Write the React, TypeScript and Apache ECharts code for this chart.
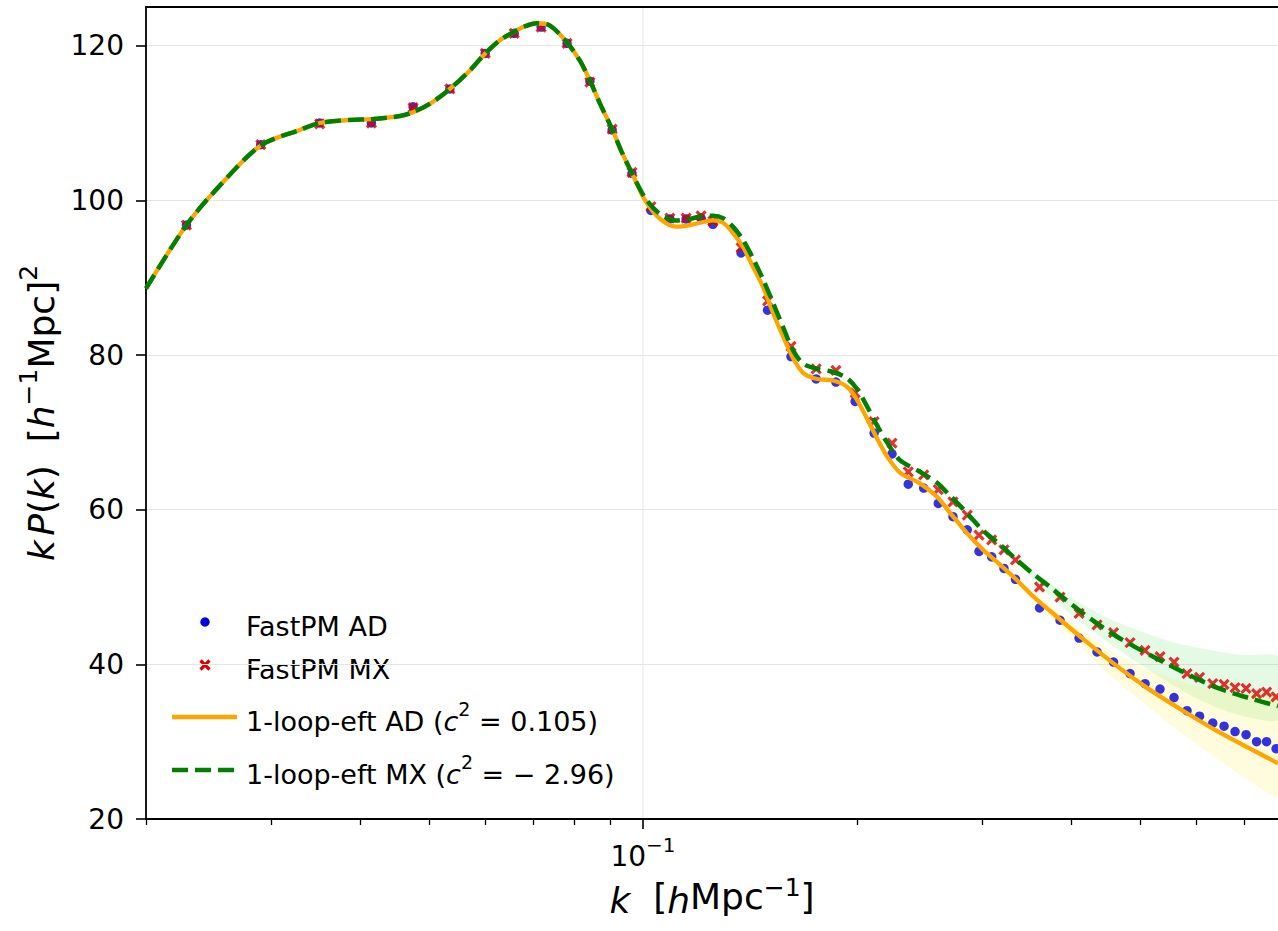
import React, { useEffect, useRef } from "react";
import * as echarts from "echarts";

// ---------- data ----------
// measured points (FastPM)
const kPoints = [
  0.0228, 0.029, 0.0351, 0.0415, 0.0475, 0.0535, 0.06, 0.0659, 0.0719, 0.0782,
  0.0842, 0.0905, 0.0965, 0.1026, 0.1091, 0.115, 0.1207, 0.1254, 0.1374, 0.1497,
  0.1615, 0.1752, 0.1868, 0.1988, 0.2114, 0.224, 0.2361, 0.2482, 0.2602, 0.2729,
  0.2858, 0.2969, 0.3093, 0.3219, 0.3341, 0.3612, 0.386, 0.4105, 0.4351, 0.459,
  0.4842, 0.5083, 0.5335, 0.5583, 0.5823, 0.6064, 0.6329, 0.6565, 0.6803, 0.705,
  0.7294, 0.7534, 0.777,
];
const fastpmAD = [
  96.8, 107.2, 110.0, 110.0, 112.1, 114.4, 119.0, 121.6, 122.4, 120.3,
  115.4, 109.1, 103.5, 98.7, 97.6, 97.6, 97.7, 96.9, 93.2, 85.8,
  79.8, 76.9, 76.5, 74.0, 69.9, 67.2, 63.3, 62.8, 60.8, 59.1,
  57.4, 54.6, 53.9, 52.4, 51.0, 47.3, 45.7, 43.4, 41.6, 40.3,
  38.8, 37.5, 36.8, 35.7, 34.0, 33.3, 32.4, 32.0, 31.3, 30.9,
  30.0, 30.0, 29.1,
];
const fastpmMX = [
  96.8, 107.2, 109.9, 110.0, 112.0, 114.4, 119.0, 121.6, 122.4, 120.3,
  115.3, 109.2, 103.6, 99.2, 97.7, 97.7, 98.0, 97.3, 93.9, 87.0,
  81.1, 78.2, 78.0, 75.1, 71.4, 68.6, 64.9, 64.5, 62.6, 61.0,
  59.3, 56.7, 56.1, 54.8, 53.5, 50.0, 48.7, 46.6, 45.1, 44.1,
  42.8, 41.8, 41.0, 40.3, 38.8, 38.3, 37.5, 37.4, 37.0, 36.9,
  36.2, 36.4, 35.8,
];

// 1-loop EFT model curves
const kModel = [
  0.02, 0.0228, 0.0254, 0.029, 0.0329, 0.0351, 0.0387, 0.0415, 0.0455, 0.0475,
  0.0502, 0.0535, 0.0571, 0.06, 0.0629, 0.0659, 0.0682, 0.0709, 0.074, 0.0782,
  0.0816, 0.0842, 0.087, 0.0905, 0.0934, 0.0965, 0.1007, 0.1057, 0.1113, 0.1165,
  0.1203, 0.1254, 0.1296, 0.1338, 0.1382, 0.1428, 0.1475, 0.1523, 0.1574, 0.1626,
  0.1679, 0.1757, 0.185, 0.1936, 0.2, 0.2065, 0.2134, 0.2204, 0.2298, 0.2452,
  0.2589, 0.2703, 0.2853, 0.3008, 0.3178, 0.3355, 0.3537, 0.3737, 0.4157, 0.4637,
  0.5165, 0.5748, 0.6412, 0.7142, 0.7818,
];
const eftAD = [
  88.6, 96.8, 101.9, 107.1, 109.1, 110.0, 110.4, 110.5, 110.9, 111.4,
  112.5, 114.4, 116.8, 119.0, 120.7, 121.8, 122.5, 122.9, 122.6, 120.4,
  118.0, 115.5, 112.5, 109.2, 106.2, 103.5, 100.0, 97.6, 96.6, 96.8,
  97.1, 97.4, 97.1, 95.8, 94.0, 91.4, 88.8, 85.5, 82.4, 79.6,
  77.7, 76.9, 76.7, 75.9, 74.2, 71.8, 69.2, 66.9, 64.8, 63.4,
  61.7, 59.6, 57.0, 54.8, 52.9, 50.9, 48.8, 46.9, 43.3, 39.8,
  36.7, 34.0, 31.4, 29.1, 27.2,
];
const eftMX = [
  88.6, 96.8, 101.9, 107.1, 109.1, 110.0, 110.4, 110.5, 110.9, 111.4,
  112.5, 114.4, 116.8, 119.0, 120.7, 121.8, 122.5, 122.9, 122.6, 120.4,
  118.0, 115.5, 112.5, 109.2, 106.2, 103.5, 100.3, 98.2, 97.4, 97.6,
  97.9, 98.0, 97.7, 96.6, 94.9, 92.5, 89.8, 86.8, 83.6, 80.6,
  78.9, 78.2, 77.8, 77.0, 75.6, 73.4, 70.9, 68.7, 66.4, 64.9,
  63.5, 61.8, 59.6, 57.3, 55.5, 53.5, 51.7, 50.0, 46.6, 43.6,
  41.2, 39.0, 37.0, 35.6, 34.6,
];

// uncertainty bands
const kBand = [0.25, 0.3, 0.35, 0.4, 0.45, 0.5, 0.55, 0.6, 0.65, 0.7, 0.7818];
const bandADlow = [62.9, 54.7, 48.7, 43.5, 38.8, 35.4, 32.3, 29.7, 27.4, 25.4, 22.9];
const bandADhigh = [62.9, 55.1, 49.7, 45.5, 42.0, 39.8, 38.3, 37.2, 36.5, 36.2, 36.0];
const bandMXlow = [64.4, 57.2, 51.5, 46.4, 42.9, 40.0, 37.6, 35.6, 34.2, 33.3, 32.8];
const bandMXhigh = [64.4, 57.6, 52.5, 48.6, 46.0, 44.3, 43.0, 42.2, 41.6, 41.2, 41.0];

// axes
const xMin = 0.02;
const xMax = 0.7818;
const xMajorTicks = [0.1];
const xMinorTicks = [0.02, 0.03, 0.04, 0.05, 0.06, 0.07, 0.08, 0.09, 0.2, 0.3, 0.4, 0.5, 0.6, 0.7];
const yMin = 20;
const yMax = 125;
const yTicks = [20, 40, 60, 80, 100, 120];
const xGridLines = [0.1];

const legendLabels = [
  "{n|FastPM AD}",
  "{n|FastPM MX}",
  "{n|1-loop-eft AD (}{i|c}{s|2}{n| = 0.105)}",
  "{n|1-loop-eft MX (}{i|c}{s|2}{n| = − 2.96)}",
];

// ---------- styling ----------
const FONT = "DejaVu Sans";
const BLUE = "#0000dd";
const RED = "#d80000";
const ORANGE = "#ffa500";
const GREEN = "#008000";
const GRIDC = "#e6e6e6";

const zip = (xs: number[], ys: number[]) => xs.map((x, i) => [x, ys[i]]);

function bandSeries(name: string, lo: number[], hi: number[], fill: string, z: number) {
  return {
    type: "custom",
    name,
    coordinateSystem: "cartesian2d",
    silent: true,
    z,
    data: [[kBand[0], hi[0]]],
    renderItem: (_p: any, api: any) => {
      const pts: number[][] = [];
      for (let i = 0; i < kBand.length; i++) pts.push(api.coord([kBand[i], hi[i]]));
      for (let i = kBand.length - 1; i >= 0; i--) pts.push(api.coord([kBand[i], lo[i]]));
      return {
        type: "polygon",
        shape: { points: pts, smooth: 0.2 },
        style: { fill, stroke: "none" },
      };
    },
  };
}

export default function App() {
  const ref = useRef<HTMLDivElement>(null);

  useEffect(() => {
    if (!ref.current) return;
    const chart = echarts.init(ref.current, null, { renderer: "svg" });

    const supRich = {
      b: { fontFamily: FONT, fontSize: 28, color: "#000", verticalAlign: "bottom", lineHeight: 35 },
      s: { fontFamily: FONT, fontSize: 20, color: "#000", verticalAlign: "top", lineHeight: 35 },
    };
    const titleRich = {
      n: { fontFamily: FONT, fontSize: 36, color: "#000", verticalAlign: "bottom", lineHeight: 44 },
      i: { fontFamily: FONT, fontSize: 36, fontStyle: "italic", color: "#000", verticalAlign: "bottom", lineHeight: 44 },
      t: { fontFamily: FONT, fontSize: 14, color: "#000", verticalAlign: "bottom", lineHeight: 44 },
      s: { fontFamily: FONT, fontSize: 25, color: "#000", verticalAlign: "top", lineHeight: 44 },
    };
    const legendRich = {
      n: { fontFamily: FONT, fontSize: 27, color: "#000", verticalAlign: "bottom", lineHeight: 36 },
      i: { fontFamily: FONT, fontSize: 27, fontStyle: "italic", color: "#000", verticalAlign: "bottom", lineHeight: 36 },
      s: { fontFamily: FONT, fontSize: 19, color: "#000", verticalAlign: "top", lineHeight: 36 },
    };

    const legendX = 172;
    const legendTextX = 246;
    const legendY = [622, 665, 717, 770];

    const option: any = {
      animation: false,
      backgroundColor: "#ffffff",
      textStyle: { fontFamily: FONT },
      grid: { left: 146, top: 7, right: 0, bottom: 112, containLabel: false },
      xAxis: [
        {
          type: "log",
          logBase: 10,
          min: xMin,
          max: xMax,
          position: "bottom",
          name: "{i|k}  [{i|h}Mpc{s|−1}]",
          nameLocation: "middle",
          nameGap: 38,
          nameTextStyle: { fontFamily: FONT, fontSize: 36, color: "#000", rich: titleRich },
          axisLine: { show: true, lineStyle: { color: "#000", width: 1.8 } },
          axisTick: { show: true, inside: false, length: 10, customValues: xMajorTicks, lineStyle: { color: "#000", width: 1.6 } },
          axisLabel: {
            show: true,
            customValues: xMajorTicks,
            margin: 16,
            formatter: () => "{b|10}{s|−1}",
            rich: supRich,
          },
          splitLine: { show: false },
          minorTick: { show: false },
        },
        {
          type: "log",
          logBase: 10,
          min: xMin,
          max: xMax,
          position: "bottom",
          axisLine: { show: false },
          axisTick: { show: true, inside: false, length: 6, customValues: xMinorTicks, lineStyle: { color: "#000", width: 1.3 } },
          axisLabel: { show: false },
          splitLine: { show: false },
        },
        {
          type: "log",
          logBase: 10,
          min: xMin,
          max: xMax,
          position: "top",
          axisLine: { show: true, lineStyle: { color: "#000", width: 1.8 } },
          axisTick: { show: false },
          axisLabel: { show: false },
          splitLine: { show: false },
        },
      ],
      yAxis: [
        {
          type: "value",
          min: yMin,
          max: yMax,
          interval: 20,
          position: "left",
          name: "{i|k}{t| }{i|P}{n|(}{i|k}{n|)}  {n|[}{i|h}{s|−1}{n|Mpc]}{s|2}",
          nameLocation: "middle",
          nameRotate: 90,
          nameGap: 84,
          nameTextStyle: { fontFamily: FONT, fontSize: 36, color: "#000", rich: titleRich },
          axisLine: { show: true, lineStyle: { color: "#000", width: 1.8 } },
          axisTick: { show: true, inside: false, length: 10, customValues: yTicks, lineStyle: { color: "#000", width: 1.6 } },
          axisLabel: {
            show: true,
            customValues: yTicks,
            margin: 22,
            fontFamily: FONT,
            fontSize: 28,
            color: "#000",
          },
          splitLine: { show: true, lineStyle: { color: GRIDC, width: 1 } },
        },
      ],
      series: [
        {
          type: "custom",
          name: "grid-x",
          coordinateSystem: "cartesian2d",
          silent: true,
          z: 0,
          data: xGridLines.map((v) => [v, yMin]),
          renderItem: (_p: any, api: any) => {
            const x = api.value(0);
            const a = api.coord([x, yMin]);
            const b = api.coord([x, yMax]);
            return {
              type: "line",
              shape: { x1: a[0], y1: a[1], x2: b[0], y2: b[1] },
              style: { stroke: GRIDC, lineWidth: 1 },
            };
          },
        },
        bandSeries("band MX", bandMXlow, bandMXhigh, "rgba(40,210,40,0.12)", 1),
        bandSeries("band AD", bandADlow, bandADhigh, "rgba(255,235,0,0.13)", 1),
        {
          type: "scatter",
          name: "FastPM AD",
          data: zip(kPoints, fastpmAD),
          symbol: "circle",
          symbolSize: 9.5,
          itemStyle: { color: BLUE },
          z: 2,
        },
        {
          type: "scatter",
          name: "FastPM MX",
          data: zip(kPoints, fastpmMX),
          symbol: "path://M0,0L10,10M10,0L0,10",
          symbolSize: 9,
          itemStyle: { color: "transparent", borderColor: RED, borderWidth: 3.2 },
          z: 3,
        },
        {
          type: "line",
          name: "1-loop-eft AD",
          data: zip(kModel, eftAD),
          showSymbol: false,
          symbol: "none",
          smooth: 0.3,
          lineStyle: { color: ORANGE, width: 4.3 },
          z: 4,
        },
        {
          type: "line",
          name: "1-loop-eft MX",
          data: zip(kModel, eftMX),
          showSymbol: false,
          symbol: "none",
          smooth: 0.3,
          lineStyle: { color: GREEN, width: 4.5, type: [16, 7] },
          z: 5,
        },
      ],
      graphic: [
        { type: "circle", shape: { cx: legendX + 33, cy: legendY[0], r: 4.7 }, style: { fill: BLUE } },
        { type: "line", shape: { x1: legendX + 28.5, y1: legendY[1] - 4.5, x2: legendX + 37.5, y2: legendY[1] + 4.5 }, style: { stroke: RED, lineWidth: 3.2 } },
        { type: "line", shape: { x1: legendX + 37.5, y1: legendY[1] - 4.5, x2: legendX + 28.5, y2: legendY[1] + 4.5 }, style: { stroke: RED, lineWidth: 3.2 } },
        { type: "line", shape: { x1: legendX, y1: legendY[2], x2: legendX + 65, y2: legendY[2] }, style: { stroke: ORANGE, lineWidth: 4.3 } },
        { type: "line", shape: { x1: legendX, y1: legendY[3], x2: legendX + 65, y2: legendY[3] }, style: { stroke: GREEN, lineWidth: 4.5, lineDash: [16, 7] } },
        ...legendLabels.map((t, i) => ({
          type: "text",
          x: legendTextX,
          y: legendY[i],
          style: {
            text: t,
            rich: legendRich,
            fontFamily: FONT,
            fontSize: 27,
            fill: "#000",
            verticalAlign: "middle",
            align: "left",
          },
        })),
      ],
    };

    chart.setOption(option);
    return () => chart.dispose();
  }, []);

  return (
    <div
      ref={ref}
      style={{ position: "absolute", left: 0, top: 0, width: 1278, height: 931, background: "#fff" }}
    />
  );
}
